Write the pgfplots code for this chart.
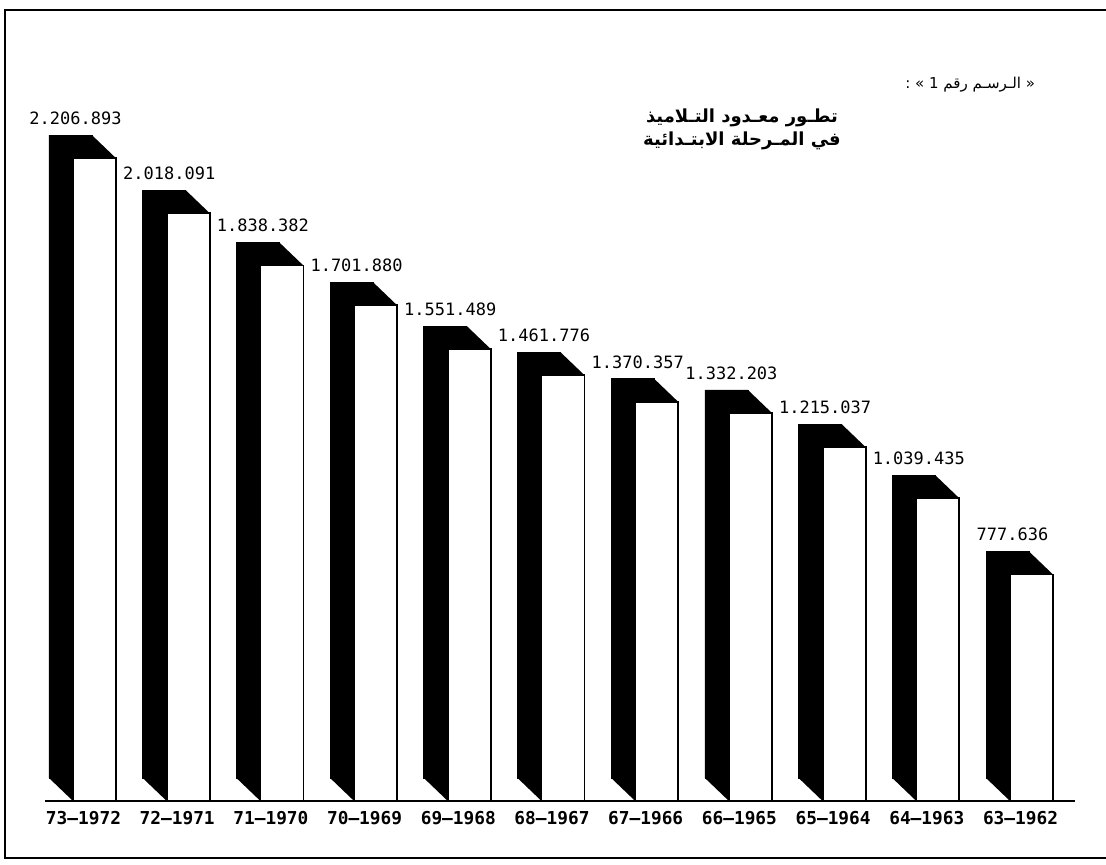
\documentclass[border=0pt]{standalone}
\usepackage{pgfplots}
\pgfplotsset{compat=1.18}
\usepackage{pgfplotstable}
\usepackage{fontspec}
\setmonofont{DejaVu Sans Mono}
\newfontfamily\arabicfont[Script=Arabic]{DejaVu Sans}
\TeXXeTstate=1

% pupils per school year
\pgfplotstableread{
i v lab
0 2206893 2.206.893
1 2018091 2.018.091
2 1838382 1.838.382
3 1701880 1.701.880
4 1551489 1.551.489
5 1461776 1.461.776
6 1370357 1.370.357
7 1332203 1.332.203
8 1215037 1.215.037
9 1039435 1.039.435
10 777636 777.636
}\pupils

% wedges that close the 3d look (1px = 0.5pt)
\pgfdeclareplotmark{topwedge}{%
  \pgfpathmoveto{\pgfpoint{-1.25pt}{11.5pt}}%
  \pgfpathlineto{\pgfpoint{10.75pt}{0pt}}%
  \pgfpathlineto{\pgfpoint{-1.25pt}{0pt}}%
  \pgfpathclose
  \pgfusepath{fill}}
\pgfdeclareplotmark{bottomwedge}{%
  \pgfpathmoveto{\pgfpoint{-22.75pt}{11.5pt}}%
  \pgfpathlineto{\pgfpoint{-10.75pt}{0pt}}%
  \pgfpathlineto{\pgfpoint{-10.75pt}{11.5pt}}%
  \pgfpathclose
  \pgfusepath{fill}}

\begin{document}
\begin{tikzpicture}[x=0.5pt,y=0.5pt]
\useasboundingbox (0,0) rectangle (1106,865);
\begin{axis}[
  at={(0pt,32pt)}, anchor=south west,
  scale only axis, width=553pt, height=400.5pt,
  xmin=-1.0085, xmax=10.7951, ymin=0, ymax=2750000,
  axis line style={draw=none}, tick style={draw=none},
  ytick=\empty, xtick={0,...,10},
  xticklabels={73–1972,72–1971,71–1970,70–1969,69–1968,68–1967,67–1966,66–1965,65–1964,64–1963,63–1962},
  xticklabel style={font=\ttfamily\bfseries\fontsize{8.9}{10}\selectfont, anchor=base, yshift=-11.75pt, xshift=-5.5pt, inner sep=0pt},
  clip=false,
]
% back face
\addplot[ybar, bar width=21.5pt, bar shift=-12pt, yshift=11.5pt, fill=black, draw=black] table[x=i, y=v] {\pupils};
% top and bottom wedges
\addplot[only marks, mark=topwedge, mark options={fill=black, draw=none}] table[x=i, y=v] {\pupils};
\addplot[only marks, mark=bottomwedge, mark options={fill=black, draw=none}] table[x=i, y expr=0] {\pupils};
% front face
\addplot[ybar, bar width=21.5pt, bar shift=0pt, fill=white, draw=black, line width=0.9pt,
  nodes near coords, point meta=explicit symbolic,
  every node near coord/.append style={font=\ttfamily\fontsize{8.5}{10}\selectfont, anchor=south, inner sep=0pt, xshift=-9.5pt, yshift=16.25pt}]
  table[x=i, y=v, meta=lab] {\pupils};
\end{axis}
\draw[line width=1.2pt] (45,64) -- (1075,64);
\draw[line width=1.1pt] (1106,855) -- (5,855) -- (5,7) -- (1106,7);
\node[align=center, font={\arabicfont\bfseries\fontsize{9}{11.5}\selectfont}] at (742,735.5)
  {\beginR تطـور معـدود التـلاميذ\endR\\ \beginR في المـرحلة الابتـدائية\endR};
\node[anchor=east, font={\arabicfont\fontsize{7.5}{8}\selectfont}] at (1042,780)
  {\beginR « الـرسـم رقم 1 » :\endR};
\end{tikzpicture}
\end{document}
